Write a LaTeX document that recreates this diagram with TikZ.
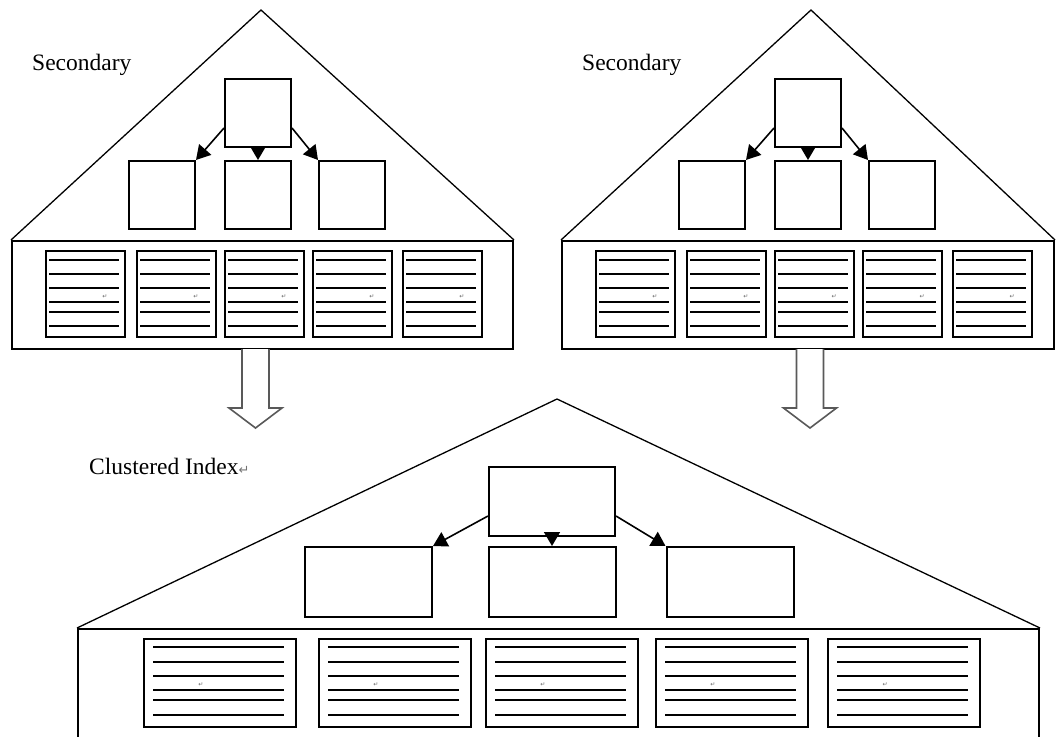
\documentclass[tikz,border=0pt]{standalone}
\usepackage{fontspec}
\setmainfont{Liberation Serif}
\newfontfamily\symfont{DejaVu Sans}
\usetikzlibrary{arrows.meta}

\begin{document}
\begin{tikzpicture}[x=1pt, y=-1pt, font=\fontsize{23.5}{28}\selectfont]
\tikzstyle{box}=[draw, line width=2pt, inner sep=0pt]
\tikzstyle{roof}=[line width=1.3pt]
\tikzstyle{link}=[line width=1.6pt, -{Triangle[length=14pt, width=16pt]}]
\tikzstyle{txt}=[line width=2pt]
\tikzstyle{lbl}=[anchor=west, inner sep=0pt]
\tikzstyle{retmark}=[font=\symfont\fontsize{6}{6}\selectfont, text=black!60, inner sep=0pt]
\tikzstyle{hollow}=[draw=black!65, line width=1.6pt, fill=white]
\useasboundingbox (0,0) rectangle (1056,736);

% the two secondary indexes
\foreach \ox/\s/\w/\ax in {0/a/501/255.5, 550/b/492/810}{
  \node[box, minimum width=\w pt, minimum height=108pt] (\s base) at (12+\ox+\w/2, 295) {};
  \coordinate (\s top) at (261+\ox, 10);
  \draw[roof] (\s base.north west) -- (\s top) -- (\s base.north east);
  \node[lbl] (\s name) at (32+\ox, 65) {Secondary};
  \node[box, minimum width=66pt, minimum height=68pt] (\s root) at (258+\ox, 113) {};
  \node[box, minimum width=66pt, minimum height=68pt] (\s left) at (162+\ox, 195) {};
  \node[box, minimum width=66pt, minimum height=68pt] (\s mid) at (258+\ox, 195) {};
  \node[box, minimum width=66pt, minimum height=68pt] (\s right) at (352+\ox, 195) {};
  \draw[link] ([yshift=-15pt]\s root.west) -- (\s left.north east);
  \draw[link] (\s root.south) -- (\s mid.north);
  \draw[link] ([yshift=-15pt]\s root.east) -- (\s right.north west);
  % leaf pages
  \foreach \px in {46,137,225,313,403}{
    \node[box, minimum width=79pt, minimum height=86pt] (\s p\px) at (\px+\ox+39.5, 294) {};
    \foreach \dy in {10,24,38,52,62,76}
      \draw[txt] ([xshift=4pt, yshift=-\dy pt]\s p\px.north west) -- ([xshift=-7pt, yshift=-\dy pt]\s p\px.north east);
    \node[retmark] (\s m\px) at ([xshift=60pt, yshift=-47pt]\s p\px.north west) {↵};
  }
  % hollow arrow down
  \draw[hollow] (\ax-13.5, 349) -- ++(0,59) -- ++(-13,0) -- ++(26.5,20) -- ++(26.5,-20) -- ++(-13,0) -- ++(0,-59);
}

% the clustered index
\node[box, minimum width=961pt, minimum height=120pt] (cbase) at (558.5, 689) {};
\coordinate (ctop) at (557, 399);
\draw[roof] (cbase.north west) -- (ctop) -- (cbase.north east);
\node[lbl] (cname) at (89, 466) {Clustered Index{\symfont\color{black!55}\fontsize{13}{13}\selectfont ↵}};
\node[box, minimum width=126pt, minimum height=69pt] (croot) at (552, 501) {};
\node[box, minimum width=127pt, minimum height=70pt] (cleft) at (368.5, 582) {};
\node[box, minimum width=127pt, minimum height=70pt] (cmid) at (552, 582) {};
\node[box, minimum width=127pt, minimum height=70pt] (cright) at (730, 582) {};
\draw[link] ([yshift=-15pt]croot.west) -- (cleft.north east);
\draw[link] (croot.south) -- (cmid.north);
\draw[link] ([yshift=-15pt]croot.east) -- (cright.north west);
\foreach \px in {144,319,486,656,828}{
  \node[box, minimum width=152pt, minimum height=88pt] (cp\px) at (\px+76, 683) {};
  \foreach \dy in {9,24,38,52,62,77}
    \draw[txt] ([xshift=10pt, yshift=-\dy pt]cp\px.north west) -- ([xshift=-13pt, yshift=-\dy pt]cp\px.north east);
  \node[retmark] (cm\px) at ([xshift=58pt, yshift=-47pt]cp\px.north west) {↵};
}
\end{tikzpicture}
\end{document}
